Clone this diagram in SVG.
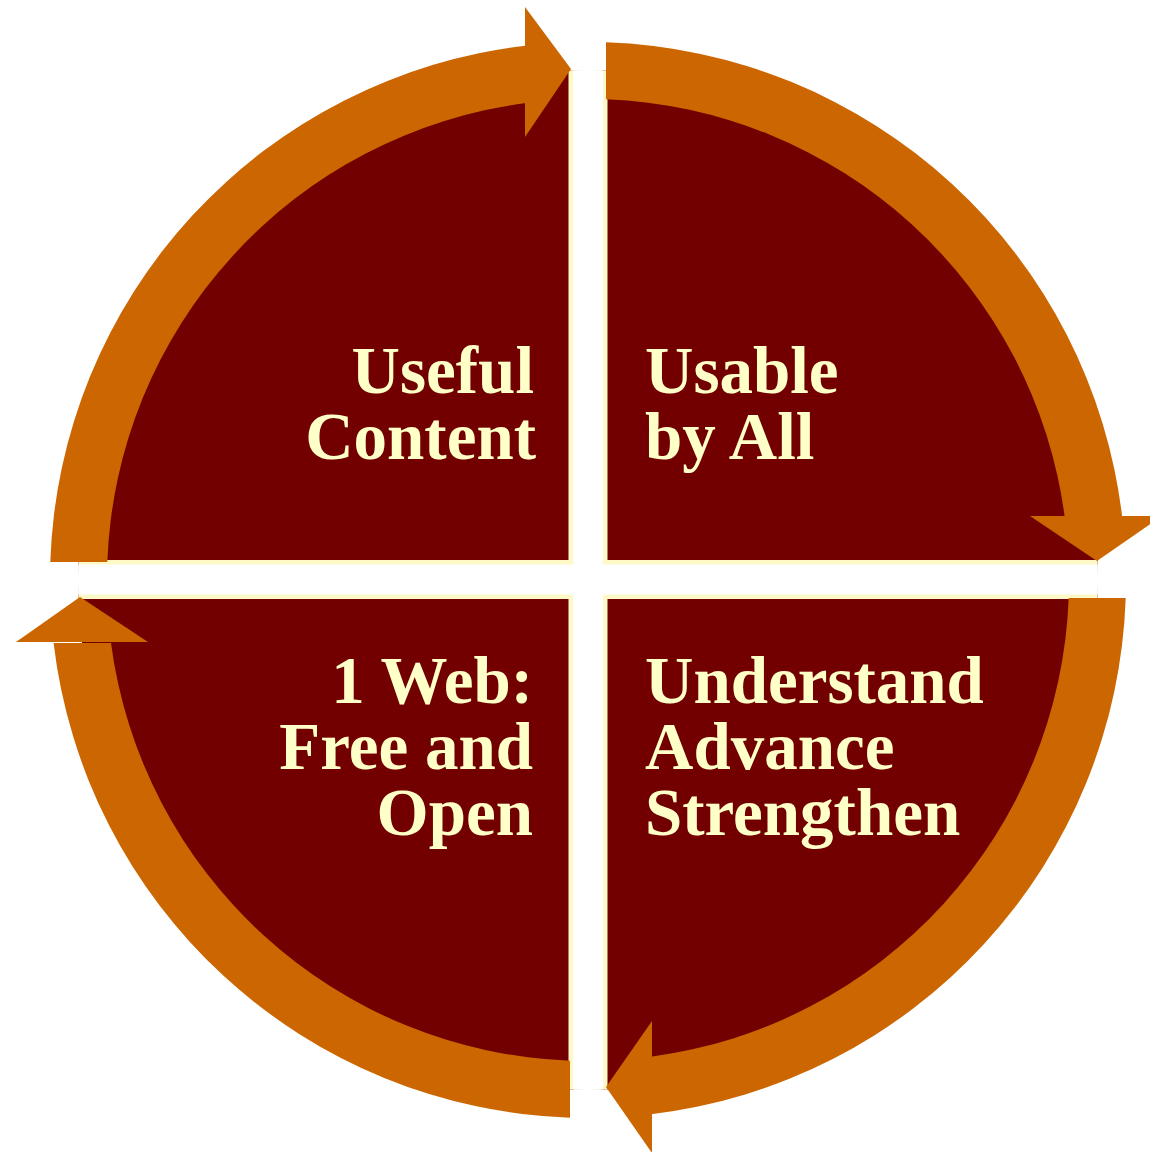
<svg xmlns="http://www.w3.org/2000/svg" width="1150" height="1152" viewBox="0 0 1150 1152">
  <style>
    .quad { fill: #720000; }
    .arc { fill: #CC6600; }
    .lbl { font-family: "Liberation Serif", "Times New Roman", serif; font-weight: bold; font-size: 67px; fill: #FFFFC8; }
    .r { text-anchor: end; }
  </style>
  <defs>
    <clipPath id="disc"><circle cx="588" cy="580" r="510"/></clipPath>
  </defs>
  <rect width="1150" height="1152" fill="#FFFFFF"/>
  <g id="disc-base">
    <circle class="quad" cx="588" cy="580" r="510"/>
    <g clip-path="url(#disc)">
      <rect x="568.5" y="0" width="39" height="1152" fill="#FFF9C8"/>
      <rect x="0" y="560" width="1150" height="39" fill="#FFF9C8"/>
      <rect x="573" y="0" width="30" height="1152" fill="#FFFFFF"/>
      <rect x="0" y="564.5" width="1150" height="30" fill="#FFFFFF"/>
    </g>
  </g>
  <g id="node-useful-content">
    <text class="lbl r" x="534" y="393">Useful</text>
    <text class="lbl r" x="536" y="459">Content</text>
  </g>
  <g id="node-usable-by-all">
    <text class="lbl" x="645" y="393">Usable</text>
    <text class="lbl" x="645" y="459">by All</text>
  </g>
  <g id="node-understand">
    <text class="lbl" x="645" y="703">Understand</text>
    <text class="lbl" x="645" y="769">Advance</text>
    <text class="lbl" x="645" y="835">Strengthen</text>
  </g>
  <g id="node-one-web">
    <text class="lbl r" x="533" y="703">1 Web:</text>
    <text class="lbl r" x="533" y="769">Free and</text>
    <text class="lbl r" x="533" y="835">Open</text>
  </g>
  <g id="connectors">
    <g id="arrow-top-left">
      <path class="arc" d="M 50.3 562 A 538 538 0 0 1 526 45.7 L 526 103.1 A 481 481 0 0 0 107.3 562 Z"/>
      <path class="arc" d="M 525 7 L 571 69 L 525 137 Z"/>
    </g>
    <g id="arrow-top-right">
      <path class="arc" d="M 606 42.3 A 538 538 0 0 1 1122.2 517 L 1064.7 517 A 481 481 0 0 0 606 99.3 Z"/>
      <path class="arc" d="M 1030 516 L 1162 516 L 1097 561 Z"/>
    </g>
    <g id="arrow-bottom-right">
      <path class="arc" d="M 1125.7 598 A 538 538 0 0 1 651 1114.2 L 651 1056.7 A 481 481 0 0 0 1068.7 598 Z"/>
      <path class="arc" d="M 652 1021 L 606 1087 L 652 1153 Z"/>
    </g>
    <g id="arrow-bottom-left">
      <path class="arc" d="M 570 1117.7 A 538 538 0 0 1 53.6 643 L 111 643 A 481 481 0 0 0 570 1060.7 Z"/>
      <path class="arc" d="M 16 642 L 80 597 L 148 642 Z"/>
    </g>
  </g>
</svg>
